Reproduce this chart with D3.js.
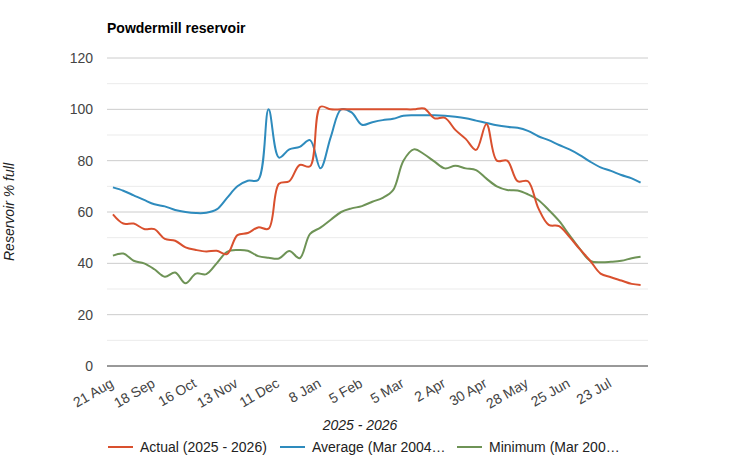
<!DOCTYPE html>
<html><head><meta charset="utf-8">
<script src="https://cdn.jsdelivr.net/npm/d3@7"></script>
<style>
html,body{margin:0;padding:0;background:#fff;}
svg{display:block;font-family:"Liberation Sans",Arial,sans-serif;}
</style></head>
<body>
<svg id="chart" width="746" height="457"></svg>
<script>
const dates = ["2025-08-21","2025-08-28","2025-09-04","2025-09-11","2025-09-18","2025-09-25","2025-10-02","2025-10-09","2025-10-16","2025-10-23","2025-10-30","2025-11-06","2025-11-13","2025-11-20","2025-11-27","2025-12-04","2025-12-11","2025-12-18","2025-12-25","2026-01-01","2026-01-08","2026-01-15","2026-01-22","2026-01-29","2026-02-05","2026-02-12","2026-02-19","2026-02-26","2026-03-05","2026-03-12","2026-03-19","2026-03-26","2026-04-02","2026-04-09","2026-04-16","2026-04-23","2026-04-30","2026-05-07","2026-05-14","2026-05-21","2026-05-28","2026-06-04","2026-06-11","2026-06-18","2026-06-25","2026-07-02","2026-07-09","2026-07-16","2026-07-23","2026-07-30","2026-08-06","2026-08-12"];
const actual = [59.1,55.5,55.5,53.4,53.3,49.5,48.8,46.2,45.2,44.6,44.9,43.6,51,51.8,54,53.5,71,72,78.3,77.8,101,100,100,100,100,100,100,100,100,100,100.3,96.5,96.7,92,88.5,84.2,94.3,80,80,72,72,61.5,55,54.5,50.3,45.5,41,36,34.6,33.3,32,31.6];
const average = [69.6,68.3,66.5,64.7,63,62.2,60.8,60,59.6,59.7,61,65.5,70,72.2,72.5,100,81.2,84.4,85.4,88,77,89.3,100,98.8,94,95,95.8,96.3,97.5,97.7,97.7,97.7,97.5,97.1,96.5,95.6,94.7,93.8,93.2,92.8,91.6,89.5,88,86.1,84.4,82.2,79.6,77.4,76,74.4,73.1,71.4];
const minimum = [43,43.8,41,40,37.7,34.8,36.4,32.2,36,35.8,40,44.5,45.2,44.9,42.8,42.2,41.9,44.8,42,51.5,53.9,57,60,61.4,62.3,64,65.5,68.5,80,84.4,82.5,79.6,77,78,77,76.3,73,70,68.6,68.4,66.9,64.7,60.8,56.5,51,45.6,41,40.4,40.6,41,42,42.6];
const tickDates = ["2025-08-21","2025-09-18","2025-10-16","2025-11-13","2025-12-11","2026-01-08","2026-02-05","2026-03-05","2026-04-02","2026-04-30","2026-05-28","2026-06-25","2026-07-23"];
const yTicks = [0,20,40,60,80,100,120];
const seriesNames = ["Actual (2025 - 2026)","Average (Mar 2004…","Minimum (Mar 200…"];
const seriesColors = ["#d9502e","#2e8bbd","#6e9356"];

const svg = d3.select("#chart");
const parse = d3.utcParse("%Y-%m-%d");
const fmt = d3.utcFormat("%-d %b");
const pLeft = 107, pRight = 648, pTop = 58, pBottom = 366;
const FONT = "'Liberation Sans',Arial,sans-serif";

const x = d3.scaleUtc().domain([parse("2025-08-17"), parse("2026-08-17")]).range([pLeft, pRight]);
const y = d3.scaleLinear().domain([0, 120]).range([pBottom, pTop]);

// minor gridlines
svg.append("g").selectAll("line").data(d3.range(10, 120, 20)).join("line")
  .attr("x1", pLeft).attr("x2", pRight).attr("y1", d => y(d)).attr("y2", d => y(d))
  .attr("stroke", "#ebebeb").attr("stroke-width", 1);
// major gridlines
svg.append("g").selectAll("line").data(yTicks.filter(d => d > 0)).join("line")
  .attr("x1", pLeft).attr("x2", pRight).attr("y1", d => y(d)).attr("y2", d => y(d))
  .attr("stroke", "#cccccc").attr("stroke-width", 1);

// y axis labels
const yAxis = d3.axisLeft(y).tickValues(yTicks).tickSize(0).tickPadding(14);
const yg = svg.append("g").attr("transform", `translate(${pLeft},0)`).call(yAxis);
yg.select(".domain").remove();
yg.selectAll("text").attr("fill", "#444").attr("font-size", 14).attr("font-family", FONT);

// x axis labels
const xAxis = d3.axisBottom(x).tickValues(tickDates.map(parse)).tickFormat(fmt).tickSize(0).tickPadding(0);
const xg = svg.append("g").attr("transform", `translate(0,${pBottom})`).call(xAxis);
xg.select(".domain").remove();
xg.selectAll("text")
  .attr("fill", "#444").attr("font-size", 14).attr("font-family", FONT)
  .attr("text-anchor", "end").attr("dy", 0)
  .attr("transform", "translate(1,20) rotate(-30)");

// baseline
svg.append("line").attr("x1", pLeft).attr("x2", pRight).attr("y1", y(0)).attr("y2", y(0))
  .attr("stroke", "#333").attr("stroke-width", 1);

// lines
const line = d3.line().x((d, i) => x(parse(dates[i]))).y(d => y(d)).curve(d3.curveCatmullRom.alpha(0.5));
[average, minimum, actual].forEach((s) => {
  const k = [actual, average, minimum].indexOf(s);
  svg.append("path").datum(s).attr("d", line).attr("fill", "none")
    .attr("stroke", seriesColors[k]).attr("stroke-width", 2).attr("stroke-linejoin", "round");
});

// title
svg.append("text").attr("x", 107).attr("y", 33).text("Powdermill reservoir")
  .attr("font-weight", "bold").attr("font-size", 14).attr("fill", "#000");

// y axis title
svg.append("text").attr("transform", `translate(14,${(pTop + pBottom) / 2}) rotate(-90)`)
  .attr("text-anchor", "middle").attr("font-style", "italic").attr("font-size", 14).attr("fill", "#222")
  .text("Reservoir % full");

// x axis title
svg.append("text").attr("x", 360).attr("y", 430).attr("text-anchor", "middle")
  .attr("font-style", "italic").attr("font-size", 14).attr("fill", "#222").text("2025 - 2026");

// legend
const legendX = [108, 280, 457];
seriesNames.forEach((n, k) => {
  const g = svg.append("g").attr("transform", `translate(${legendX[k]},447)`);
  g.append("line").attr("x1", 0).attr("x2", 25).attr("y1", 0).attr("y2", 0)
    .attr("stroke", seriesColors[k]).attr("stroke-width", 2);
  g.append("text").attr("x", 32).attr("y", 5).attr("font-size", 14).attr("fill", "#222").text(n);
});
</script>
</body></html>
